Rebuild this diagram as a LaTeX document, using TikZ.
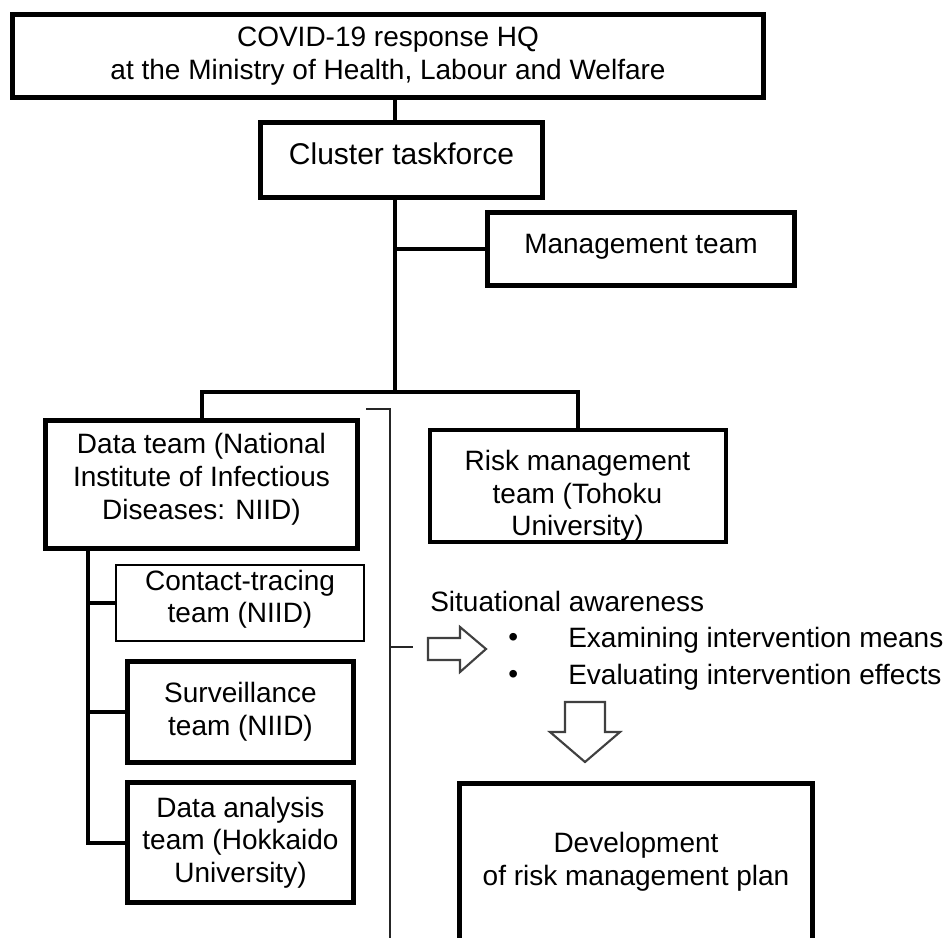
\documentclass[tikz,border=0pt]{standalone}
\usepackage{fontspec}
\setmainfont{Liberation Sans}
\usetikzlibrary{calc}
\tikzset{
	align=center,
	unit/.style={
		draw,
		rectangle,
		line width=3.75pt,
		inner sep=0pt,
		font=\fontsize{21}{24.5}\selectfont,
	},
	thinunit/.style={
		unit,
		line width=1.9pt,
	},
	link/.style={
		line width=3pt,
	},
	bracket/.style={
		draw=black!85,
		line width=1.9pt,
	},
	hollow/.style={
		draw=black!75,
		line width=1.6pt,
		line join=miter,
	},
	plain/.style={
		inner sep=0pt,
		anchor=west,
		font=\fontsize{21}{24.5}\selectfont,
	},
}

\begin{document}
\begin{tikzpicture}[x=0.75pt,y=-0.75pt]
		\useasboundingbox (0,0) rectangle (944,937);
		\clip (0,0) rectangle (944,937);

		\node[unit,minimum width=563pt,minimum height=62pt] (hq) at (388,56) {COVID-19 response HQ\\at the Ministry of Health, Labour and Welfare};
		\node[unit,minimum width=211.5pt,minimum height=56pt,text depth=10pt,font=\fontsize{22.5}{26}\selectfont] (cf) at (401.5,160) {Cluster taskforce};
		\node[unit,minimum width=230pt,minimum height=55pt,text depth=7pt] (mgmt) at (641,249) {Management team};

		\node[unit,minimum width=234pt,minimum height=96pt] (data) at (201.5,484.5) {Data team (National\\Institute of Infectious\\Diseases: NIID)\rule[-12pt]{0pt}{12pt}};
		\node[unit,line width=3pt,minimum width=222pt,minimum height=82pt] (risk) at (577.5,486) {\rule{0pt}{30pt}Risk management\\team (Tohoku\\University)};

		\node[thinunit,minimum width=186pt,minimum height=57pt] (ct) at (240,603) {Contact-tracing\\team (NIID)\rule[-10pt]{0pt}{10pt}};
		\node[unit,minimum width=169.5pt,minimum height=76pt] (sv) at (240.5,712) {Surveillance\\team (NIID)};
		\node[unit,minimum width=169.5pt,minimum height=90pt] (da) at (240.5,842.5) {Data analysis\\team (Hokkaido\\University)};

		\node[unit,minimum width=265pt,minimum height=118.5pt] (dev) at (636,862) {Development\\of risk management plan};

		\node[plain] (sit) at (430,601) {Situational awareness};
		\node[plain] (b1) at (508,640) {\textbullet};
		\node[plain] (i1) at (568,640) {Examining intervention means};
		\node[plain] (b2) at (508,677) {\textbullet};
		\node[plain] (i2) at (568,677) {Evaluating intervention effects};

		\coordinate (branch) at (395,392);
		\coordinate (subx) at (88,0);

		% tree
		\draw[link] (hq.south -| branch) -- (cf.north -| branch);
		\draw[link] (cf.south -| branch) -- (branch);
		\draw[link] (mgmt.west) -- (mgmt.west -| branch);
		\draw[link] (data.north) |- (branch) -| (risk.north);
		\draw[link] (data.south -| subx) |- (da.west);
		\draw[link] (ct.west) -- (ct.west -| subx);
		\draw[link] (sv.west) -- (sv.west -| subx);

		% bracket and arrows
		\draw[bracket] (366,409) -- (390,409) -- (390,945);
		\draw[bracket] (390,647) -- (413,647);
		\draw[hollow] (428,638) -- (460,638) -- (460,627) -- (486,649) -- (460,672) -- (460,660) -- (428,660) -- cycle;
		\draw[hollow] (565,702) -- (605,702) -- (605,732) -- (620,732) -- (585,762) -- (550,732) -- (565,732) -- cycle;

	\end{tikzpicture}
\end{document}
